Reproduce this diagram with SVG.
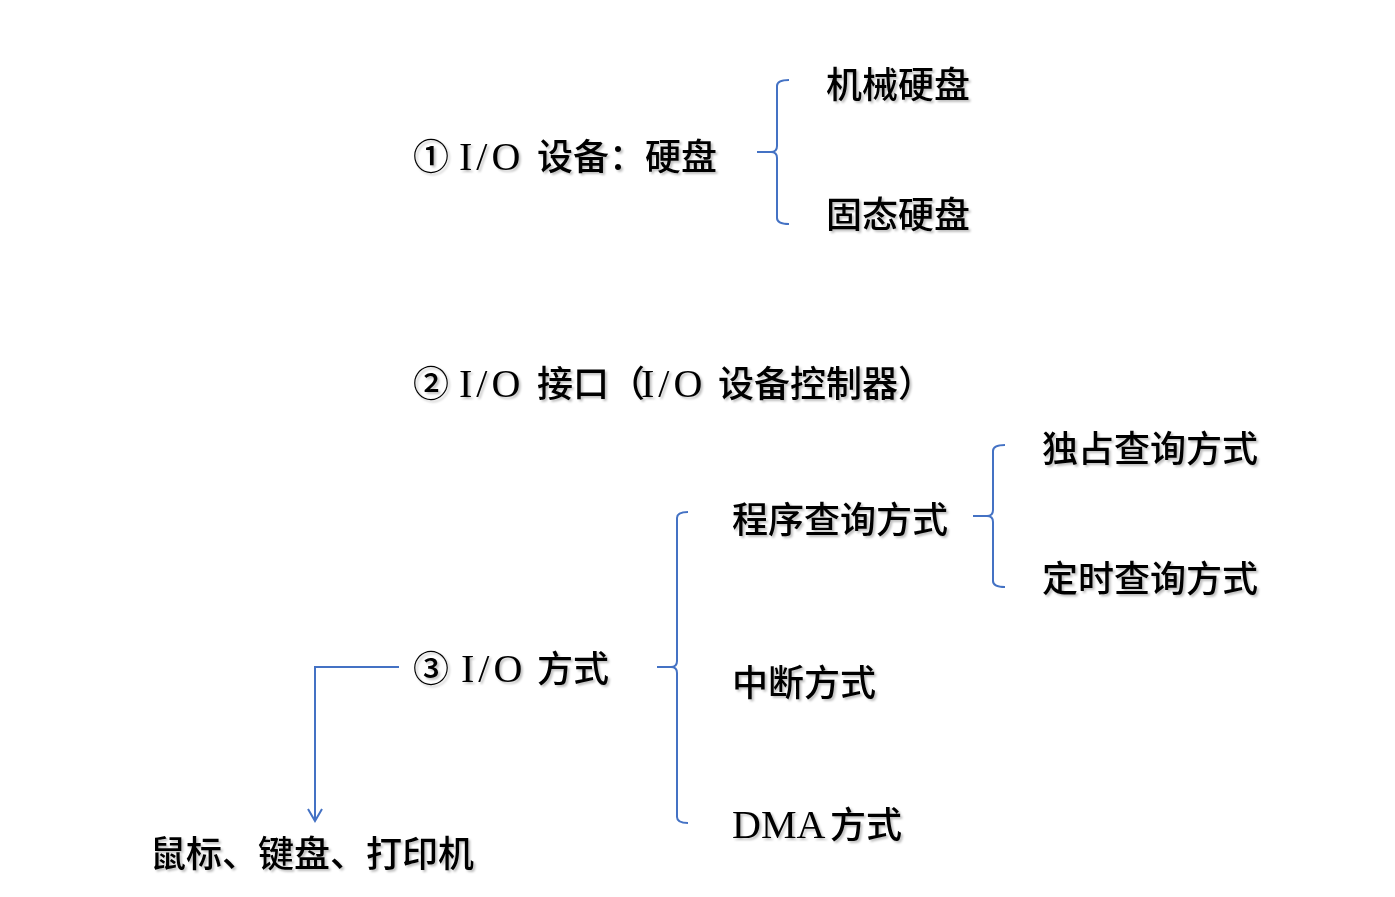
<svg xmlns="http://www.w3.org/2000/svg" width="1395" height="897" viewBox="0 0 1395 897">
  <defs>
    <filter id="shadow" x="-5%" y="-20%" width="110%" height="140%">
      <feDropShadow dx="2" dy="2" stdDeviation="1" flood-color="#000" flood-opacity="0.25"/>
    </filter>
  </defs>
  <style>
    .t { font-family: "Noto Sans CJK SC", sans-serif; font-size: 36px; font-weight: 500; fill: #000; filter: url(#shadow); }
    .lat { font-family: "Liberation Serif", "Noto Sans CJK SC", serif; font-size: 40px; font-weight: 400; }
    .io { letter-spacing: 4px; }
    .brace { fill: none; stroke: #4472C4; stroke-width: 2; }
  </style>
  <rect width="1395" height="897" fill="#fff"/>

  <!-- connectors -->
  <g id="connectors" class="brace">
    <path d="M789,80 Q777,80 777,86 V146 Q777,152 771,152 H757 M771,152 Q777,152 777,158 V218 Q777,224 789,224"/>
    <path d="M1005,445 Q993,445 993,451 V510 Q993,516 987,516 H973 M987,516 Q993,516 993,522 V581 Q993,587 1005,587"/>
    <path d="M688,512 Q677,512 677,518 V661 Q677,667 671,667 H657 M671,667 Q677,667 677,673 V817 Q677,823 688,823"/>
    <polyline points="399,667 315,667 315,821"/>
    <polyline points="308,809 315,821 322,809"/>
  </g>

  <g id="io-device">
    <text class="t" y="170"><tspan x="413">①</tspan><tspan class="lat io" x="459">I/O</tspan><tspan x="537">设备：硬盘</tspan></text>
  </g>
  <g id="hdd"><text class="t" x="826" y="98">机械硬盘</text></g>
  <g id="ssd"><text class="t" x="826" y="228">固态硬盘</text></g>

  <g id="io-interface">
    <text class="t" y="397"><tspan x="413">②</tspan><tspan class="lat io" x="459">I/O</tspan><tspan x="537">接口（</tspan><tspan class="lat io" x="641">I/O</tspan><tspan x="718">设备控制器）</tspan></text>
  </g>

  <g id="io-mode">
    <text class="t" y="682"><tspan x="413">③</tspan><tspan class="lat io" x="461">I/O</tspan><tspan x="537">方式</tspan></text>
  </g>

  <g id="polling"><text class="t" x="732" y="533">程序查询方式</text></g>
  <g id="exclusive-polling"><text class="t" x="1042" y="462">独占查询方式</text></g>
  <g id="timed-polling"><text class="t" x="1042" y="592">定时查询方式</text></g>
  <g id="interrupt"><text class="t" x="732" y="696">中断方式</text></g>
  <g id="dma">
    <text class="t" y="838"><tspan class="lat" x="732">DMA</tspan><tspan x="830">方式</tspan></text>
  </g>

  <g id="devices"><text class="t" x="150" y="867">鼠标、键盘、打印机</text></g>
</svg>
